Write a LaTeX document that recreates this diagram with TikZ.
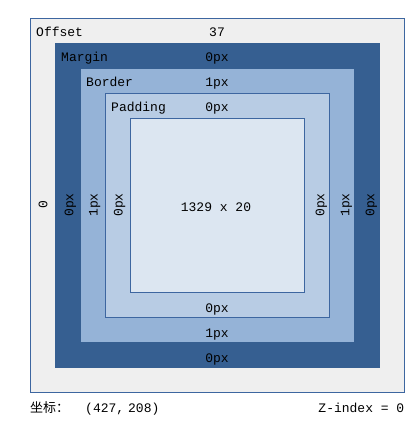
\documentclass[tikz,border=0pt]{standalone}
\usepackage{fontspec}
\setmonofont{Liberation Mono}
\newfontfamily\cjk{Noto Sans CJK SC}
\definecolor{offsetgray}{HTML}{EFEFEF}
\definecolor{lineblue}{HTML}{3D66A0}
\definecolor{marginblue}{HTML}{365F91}
\definecolor{borderblue}{HTML}{95B3D7}
\definecolor{paddingblue}{HTML}{B8CCE4}
\definecolor{contentblue}{HTML}{DCE6F1}

\begin{document}
\begin{tikzpicture}[x=1pt, y=-1pt,
  lbl/.style={font=\ttfamily\fontsize{13}{15}\selectfont, inner sep=0pt},
  vlbl/.style={lbl, rotate=90, anchor=base}]
\useasboundingbox (0,0) rectangle (416,431);
\fill[white] (0,0) rectangle (416,431);

\filldraw[fill=offsetgray, draw=lineblue] (30.5,18.5) rectangle (404.5,392.5);
\fill[marginblue] (55,43) rectangle (380,368);
\fill[borderblue] (81,69) rectangle (354,342);
\filldraw[fill=paddingblue, draw=lineblue] (105.5,93.5) rectangle (329.5,317.5);
\filldraw[fill=contentblue, draw=lineblue] (130.5,118.5) rectangle (304.5,292.5);

\node[lbl, anchor=base west] (offset) at (36,36) {Offset};
\node[lbl, anchor=base west] (margin) at (61,61) {Margin};
\node[lbl, anchor=base west] (border) at (86,86) {Border};
\node[lbl, anchor=base west] (padding) at (111,111) {Padding};

\node[lbl, anchor=base] (offsettop) at (217,36) {37};
\node[lbl, anchor=base] (margintop) at (217,61) {0px};
\node[lbl, anchor=base] (bordertop) at (217,86) {1px};
\node[lbl, anchor=base] (paddingtop) at (217,111) {0px};

\node[lbl, anchor=base] (size) at (216,211) {1329 x 20};

\node[lbl, anchor=base] (paddingbottom) at (217,312) {0px};
\node[lbl, anchor=base] (borderbottom) at (217,337) {1px};
\node[lbl, anchor=base] (marginbottom) at (217,362) {0px};

\node[vlbl] (offsetleft) at (47.3,205) {0};
\node[vlbl] (marginleft) at (73.3,205) {0px};
\node[vlbl] (borderleft) at (97.7,205) {1px};
\node[vlbl] (paddingleft) at (122.7,205) {0px};

\node[vlbl] (paddingright) at (324.3,205) {0px};
\node[vlbl] (borderright) at (349.3,205) {1px};
\node[vlbl] (marginright) at (374.3,205) {0px};

\node[lbl, anchor=base west] (coords) at (30,412.5) {{\cjk 坐标：}\hspace{16pt}(427,\hspace{4pt}208)};
\node[lbl, anchor=base east] (zindex) at (404.5,412.5) {Z-index = 0};
\end{tikzpicture}
\end{document}
